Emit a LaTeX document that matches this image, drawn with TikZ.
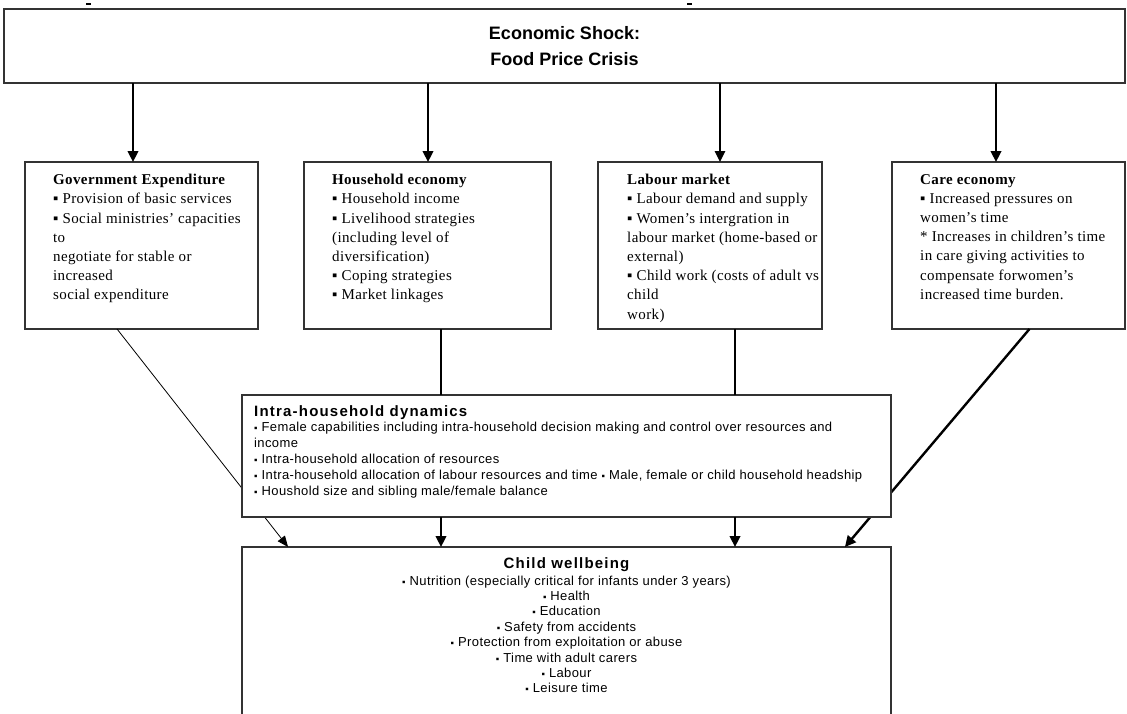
\documentclass[tikz,border=0pt]{standalone}
\usepackage{fontspec}
\setmainfont{Liberation Serif}
\setsansfont{Liberation Sans}
\usetikzlibrary{arrows.meta,calc,positioning}
\newcommand{\sqbul}{\scalebox{0.75}{▪}}
\newcommand{\sanshead}{\fontsize{15}{17}\selectfont\addfontfeatures{LetterSpace=8}\bfseries}
\tikzset{
	box/.style={draw=black!80, line width=1.4pt, anchor=north west, inner sep=0pt, outer sep=0pt},
	boxtext/.style={anchor=north west, align=left, inner sep=0pt, font=\fontsize{15}{19.2}\selectfont\addfontfeatures{LetterSpace=2.5}},
	sanstext/.style={inner sep=0pt, font=\sffamily\fontsize{13}{16}\selectfont\addfontfeatures{LetterSpace=3}},
	arr/.style={-{Triangle[length=11pt,width=10.5pt]}, line width=2.4pt},
}

\begin{document}
\begin{tikzpicture}[x=1pt,y=-1pt]
	\useasboundingbox (0,0) rectangle (1127,713);
	%
	% shock
	\node[box, line width=2pt, minimum width=1121pt, minimum height=74pt] (shock) at (4,9) {};
	\node[font=\sffamily\bfseries\fontsize{18}{26}\selectfont, align=center] (shocktxt) at (shock.center) {Economic Shock:\\Food Price Crisis};
	\draw[line width=1.6pt] (86,4) -- (91,4);
	\draw[line width=1.6pt] (687,4) -- (692,4);
	
	% four sectors
	\node[box, minimum width=233pt, minimum height=167pt] (gov) at (25,162) {};
	\node[box, minimum width=247pt, minimum height=167pt] (hh) at (304,162) {};
	\node[box, minimum width=224pt, minimum height=167pt] (lab) at (598,162) {};
	\node[box, minimum width=233pt, minimum height=167pt] (care) at (892,162) {};
	%
	\node[boxtext] (govtxt) at ($(gov.north west)+(28,12)$) {\textbf{Government Expenditure}\\
		▪ Provision of basic services\\
		▪ Social ministries’ capacities\\
		to\\
		negotiate for stable or\\
		increased\\
		social expenditure};
	\node[boxtext] (hhtxt) at ($(hh.north west)+(28,12)$) {\textbf{Household economy}\\
		▪ Household income\\
		▪ Livelihood strategies\\
		(including level of\\
		diversification)\\
		▪ Coping strategies\\
		▪ Market linkages};
	\node[boxtext] (labtxt) at ($(lab.north west)+(29,12)$) {\textbf{Labour market}\\
		▪ Labour demand and supply\\
		▪ Women’s intergration in\\
		labour market (home-based or\\
		external)\\
		▪ Child work (costs of adult vs\\
		child\\
		work)};
	\node[boxtext] (caretxt) at ($(care.north west)+(28,12)$) {\textbf{Care economy}\\
		▪ Increased pressures on\\
		women’s time\\
		* Increases in children’s time\\
		in care giving activities to\\
		compensate forwomen’s\\
		increased time burden.};
	%
	\foreach \b/\dx/\w in {gov/-8.5/2.4, hh/0.5/2.4, lab/10/1.4, care/-12.5/2.4}{
		\coordinate (\b in) at ($(\b.north)+(\dx,0)$);
		\draw[arr, line width=\w pt] (\b in |- shock.south) -- (\b in);
	}
	
	% child wellbeing
	\node[box, minimum width=649pt, minimum height=200pt] (child) at (242,547) {};
	\node[sanstext, anchor=north, align=center] (childtxt) at ($(child.north)+(0,10)$) {{\sanshead Child wellbeing}\\[1pt]
		\sqbul\ Nutrition (especially critical for infants under 3 years)\\[-0.6pt]
		\sqbul\ Health\\[-0.6pt]
		\sqbul\ Education\\[-0.6pt]
		\sqbul\ Safety from accidents\\[-0.6pt]
		\sqbul\ Protection from exploitation or abuse\\[-0.6pt]
		\sqbul\ Time with adult carers\\[-0.6pt]
		\sqbul\ Labour\\[-0.6pt]
		\sqbul\ Leisure time};
	
	% diagonals, partly hidden behind the household box
	\draw[-{Triangle[length=11pt,width=9pt]}, line width=0.8pt] ($(gov.south west)!0.395!(gov.south east)$) -- ($(child.north west)!0.071!(child.north east)$);
	\draw[arr] ($(care.south west)!0.59!(care.south east)$) -- ($(child.north west)!0.929!(child.north east)$);
	
	% intra-household
	\node[box, fill=white, minimum width=649pt, minimum height=122pt] (intra) at (242,395) {};
	\node[sanstext, anchor=north west, align=left] (intratxt) at ($(intra.north west)+(12,10)$) {{\sanshead Intra-household dynamics}\\[-1pt]
		\sqbul\ Female capabilities including intra-household decision making and control over resources and\\
		income\\
		\sqbul\ Intra-household allocation of resources\\
		\sqbul\ Intra-household allocation of labour resources and time \sqbul\ Male, female or child household headship\\
		\sqbul\ Houshold size and sibling male/female balance};
	%
	\coordinate (hh out) at ($(hh.south)+(13.5,0)$);
	\coordinate (lab out) at ($(lab.south)+(25,0)$);
	\draw[line width=2pt] (hh out) -- (hh out |- intra.north);
	\draw[line width=2pt] (lab out) -- (lab out |- intra.north);
	\draw[arr] (hh out |- intra.south) -- (hh out |- child.north);
	\draw[arr] (lab out |- intra.south) -- (lab out |- child.north);
\end{tikzpicture}
\end{document}
